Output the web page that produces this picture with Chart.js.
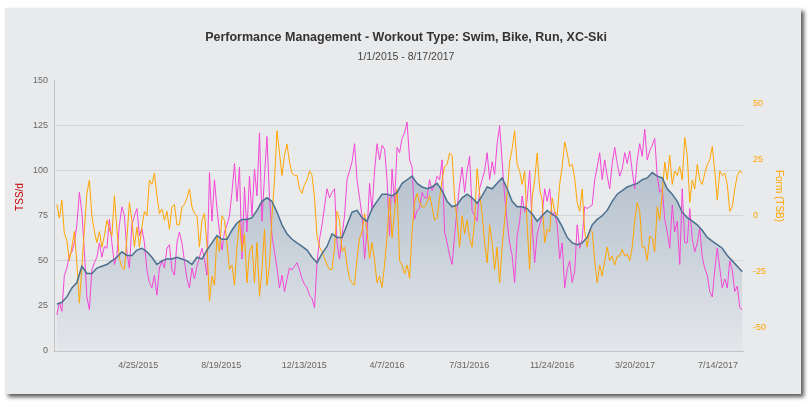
<!DOCTYPE html>
<html>
<head>
<meta charset="utf-8">
<script src="https://cdn.jsdelivr.net/npm/chart.js@4.4.1/dist/chart.umd.min.js"></script>
<style>
    html, body { margin: 0; padding: 0; background: #ffffff; }
    #wrap { position: relative; width: 812px; height: 404px; }
    #card {
        position: absolute; left: 5px; top: 8px; width: 796px; height: 386px;
        background: #e9eaec;
        box-shadow: 3px 3px 4px rgba(0, 0, 0, 0.65);
    }
    #pmc { position: absolute; left: 0; top: 0; }
</style>
</head>
<body>
<div id="wrap">
    <div id="card"></div>
    <canvas id="pmc" width="812" height="404"></canvas>
</div>
<script>
const titleText = "Performance Management - Workout Type: Swim, Bike, Run, XC-Ski";
const subtitleText = "1/1/2015 - 8/17/2017";
const leftTitle = "TSS/d";
const rightTitle = "Form (TSB)";

// samples start 1/1/2015: CTL once a week, ATL and TSB twice a week
const startDate = Date.UTC(2015, 0, 1);
const ctlStep = 7;
const dailyStep = 3.5;

const tickDates = ["4/25/2015", "8/19/2015", "12/13/2015", "4/7/2016", "7/31/2016", "11/24/2016", "3/20/2017", "7/14/2017"];
const leftTicks = [0, 25, 50, 75, 100, 125, 150];
const rightTicks = [-50, -25, 0, 25, 50];

// Fitness (CTL)
const ctl = [26, 27, 30, 35, 38, 47, 43, 43, 46, 47,
    48, 50, 52, 55, 53, 53, 56, 57, 55, 52,
    48, 50, 51, 51, 52, 51, 50, 48, 52, 51,
    56, 60, 64, 62, 62, 67, 71, 73, 73, 74,
    78, 83, 85, 83, 77, 70, 65, 62, 60, 58,
    56, 52, 49, 54, 58, 65, 63, 63, 70, 77,
    78, 74, 72, 79, 83, 87, 87, 86, 88, 93,
    95, 97, 93, 91, 90, 91, 93, 89, 83, 80,
    81, 85, 87, 85, 82, 86, 91, 90, 93, 96,
    90, 83, 80, 80, 79, 76, 72, 75, 78, 76,
    74, 69, 63, 60, 59, 60, 63, 70, 73, 75,
    78, 83, 87, 89, 91, 92, 93, 95, 96, 99,
    97, 96, 90, 87, 83, 77, 74, 72, 70, 67,
    63, 61, 59, 57, 53, 50, 47, 44];

// Fatigue (ATL)
const atl = [20, 27, 22, 42, 46, 53, 55, 60, 70, 88,
    77, 55, 30, 23, 45, 49, 52, 60, 52, 58,
    57, 73, 60, 48, 53, 70, 80, 75, 55, 46,
    70, 75, 79, 64, 68, 60, 45, 38, 35, 42,
    31, 46, 50, 46, 57, 59, 45, 42, 60, 66,
    60, 50, 40, 35, 46, 40, 47, 52, 57, 51,
    42, 99, 72, 95, 79, 66, 56, 66, 70, 75,
    88, 104, 83, 102, 51, 91, 66, 97, 75, 101,
    86, 121, 72, 97, 119, 85, 64, 55, 46, 35,
    42, 33, 40, 46, 45, 47, 49, 45, 40, 37,
    35, 31, 29, 24, 49, 62, 70, 80, 90, 85,
    88, 90, 60, 51, 64, 75, 95, 100, 105, 115,
    95, 85, 75, 51, 66, 93, 78, 100, 115, 106,
    114, 112, 95, 64, 101, 82, 113, 110, 118, 121,
    127, 106, 102, 73, 78, 79, 88, 85, 85, 95,
    89, 92, 97, 95, 106, 66, 60, 53, 48, 64,
    79, 92, 102, 88, 100, 108, 78, 75, 72, 90,
    95, 100, 110, 95, 105, 98, 115, 125, 105, 86,
    72, 60, 53, 38, 64, 72, 86, 77, 84, 100,
    70, 49, 65, 70, 75, 90, 83, 90, 75, 77,
    70, 51, 60, 35, 45, 50, 38, 44, 70, 57,
    62, 80, 79, 80, 81, 95, 102, 110, 95, 106,
    97, 90, 104, 113, 104, 97, 101, 110, 104, 111,
    100, 90, 106, 115, 108, 123, 106, 111, 114, 118,
    97, 88, 90, 73, 66, 57, 81, 66, 72, 48,
    90, 60, 60, 79, 62, 55, 60, 68, 52, 46,
    42, 33, 30, 45, 57, 46, 35, 40, 35, 50,
    45, 33, 36, 24, 23];

// Form (TSB), right axis
const tsb = [5, -1, 7, -8, -11, -20, -14, -7, -21, -39,
    -23, -6, 10, 16, 0, -7, -12, -7, -14, -9,
    -2, -6, -9, 9, -6, -19, -23, -24, -10, 6,
    -2, -14, -5, -14, -5, 2, 0, 16, 14, 19,
    9, 1, 3, -2, 2, -6, 4, 5, -4, -4,
    4, 5, 8, 12, 4, 1, 0, -14, -2, 1,
    -13, -38, -27, -31, -9, -16, 0, -2, -12, -24,
    -22, -31, -14, -2, -16, -8, -30, -16, -13, -30,
    -12, -36, -24, -6, -31, -22, 0, 16, 38, 28,
    18, 27, 32, 24, 19, 18, 18, 12, 10, 14,
    16, 20, 18, 8, -9, -14, -16, -19, -22, -24,
    -24, -14, 2, -2, -16, -14, -22, -28, -30, -31,
    -19, -10, -7, 1, -7, -19, -12, -20, -30, -27,
    -32, -22, -9, 8, -10, 2, 12, -20, -22, -26,
    -22, -28, -7, 6, 10, 6, 4, 4, 6, 9,
    4, -2, -1, 8, 16, 22, 23, 28, 27, 8,
    -2, -14, 0, -8, -2, -10, -14, -2, 21, 10,
    1, -12, -21, -4, -12, -24, -14, -30, -14, -2,
    10, 24, 30, 38, 23, 20, 14, 20, -4, -24,
    8, 16, 28, 12, 7, -12, -6, -7, 8, 2,
    0, 14, 22, 33, 28, 22, 23, 17, 6, 2,
    12, -7, -14, -6, -7, -20, -30, -22, -27, -20,
    -14, -20, -18, -22, -18, -18, -15, -18, -17, -20,
    -14, -2, 6, 2, -14, -14, -20, -9, -10, -16,
    4, -2, 10, 24, 16, 27, 14, 20, 18, 22,
    16, 35, 27, 6, 16, 12, 23, 16, 14, 19,
    23, 25, 31, 20, 7, 20, 18, 19, 14, 2,
    4, 12, 18, 20, 19];

function dayOf(str) {
    const [m, d, y] = str.split("/").map(Number);
    return Math.round((Date.UTC(y, m - 1, d) - startDate) / 86400000);
}

function toPoints(values, step) {
    return values.map((v, i) => ({ x: i * step, y: v }));
}

const tickDays = tickDates.map(dayOf);
const fontFamily = '"Liberation Sans", Arial, Helvetica, sans-serif';

const axisTitles = {
    id: "axisTitles",
    afterDraw(chart) {
        const c = chart.ctx;
        c.save();
        c.font = "10px " + fontFamily;
        c.textAlign = "center";
        c.textBaseline = "middle";
        c.fillStyle = "#c00000";
        c.translate(20, 197);
        c.rotate(-Math.PI / 2);
        c.fillText(leftTitle, 0, 0);
        c.restore();
        c.save();
        c.font = "10px " + fontFamily;
        c.textAlign = "center";
        c.textBaseline = "middle";
        c.fillStyle = "#ffa500";
        c.translate(779, 196);
        c.rotate(Math.PI / 2);
        c.fillText(rightTitle, 0, 0);
        c.restore();
    }
};

const ctx = document.getElementById("pmc").getContext("2d");

new Chart(ctx, {
    type: "line",
    data: {
        datasets: [{
            label: "Fatigue (ATL)",
            data: toPoints(atl, dailyStep),
            yAxisID: "y",
            borderColor: "#f446d6",
            borderWidth: 1,
            pointRadius: 0,
            fill: false,
            order: 2
        }, {
            label: "Form (TSB)",
            data: toPoints(tsb, dailyStep),
            yAxisID: "y2",
            borderColor: "#ffa500",
            borderWidth: 1,
            pointRadius: 0,
            fill: false,
            order: 1
        }, {
            label: "Fitness (CTL)",
            data: toPoints(ctl, ctlStep),
            yAxisID: "y",
            borderColor: "#4b6f8e",
            borderWidth: 1.5,
            pointRadius: 0,
            fill: "origin",
            backgroundColor: (c) => {
                const area = c.chart.chartArea;
                if (!area) return "rgba(0,0,0,0)";
                const g = c.chart.ctx.createLinearGradient(0, area.top, 0, area.bottom);
                g.addColorStop(0, "#9eafc0");
                g.addColorStop(1, "#e3e6ea");
                return g;
            },
            order: 0
        }]
    },
    options: {
        responsive: false,
        animation: false,
        layout: { padding: 0 },
        plugins: {
            legend: { display: false },
            tooltip: { enabled: false },
            filler: { drawTime: "beforeDatasetsDraw" },
            title: {
                display: true,
                text: titleText,
                color: "#333333",
                font: { family: fontFamily, size: 12.5, weight: "bold" },
                padding: { top: 30, bottom: 6 }
            },
            subtitle: {
                display: true,
                text: subtitleText,
                color: "#444444",
                font: { family: fontFamily, size: 10.5 },
                padding: { top: 0, bottom: 17 }
            }
        },
        scales: {
            x: {
                type: "linear",
                min: -4,
                max: 960,
                afterBuildTicks: (s) => { s.ticks = tickDays.map(v => ({ value: v })); },
                afterFit: (s) => { s.height = 53; },
                ticks: {
                    autoSkip: false,
                    maxRotation: 0,
                    padding: 9,
                    color: "#666666",
                    font: { family: fontFamily, size: 9 },
                    callback: (v) => tickDates[tickDays.indexOf(v)]
                },
                grid: { display: false, drawTicks: false },
                border: { display: true, color: "#c4c4c4" }
            },
            y: {
                position: "left",
                min: 0,
                max: 150,
                afterBuildTicks: (s) => { s.ticks = leftTicks.map(v => ({ value: v })); },
                afterFit: (s) => { s.width = 54; },
                ticks: {
                    padding: 6,
                    color: "#666666",
                    font: { family: fontFamily, size: 9 }
                },
                grid: {
                    drawTicks: false,
                    color: (c) => (c.tick && (c.tick.value === 0 || c.tick.value === 150)) ? "rgba(0,0,0,0)" : "#d3d4d6",
                    lineWidth: 1
                },
                border: { display: true, color: "#c4c4c4" }
            },
            y2: {
                position: "right",
                min: -60.4,
                max: 60.4,
                afterBuildTicks: (s) => { s.ticks = rightTicks.map(v => ({ value: v })); },
                afterFit: (s) => { s.width = 69; },
                ticks: {
                    padding: 10,
                    color: "#ffa500",
                    font: { family: fontFamily, size: 9 }
                },
                grid: { display: false, drawTicks: false },
                border: { display: false }
            }
        }
    },
    plugins: [axisTitles]
});
</script>
</body>
</html>
